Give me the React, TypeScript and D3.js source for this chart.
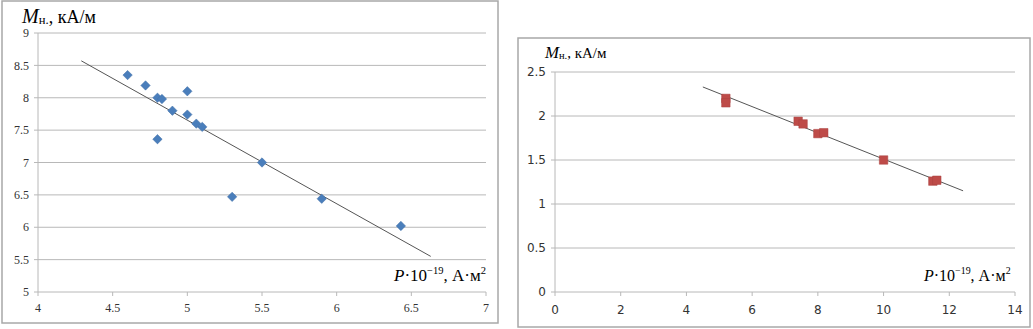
import React from 'react';
import * as d3 from 'd3';

// left chart: diamonds
const leftX = [4.6, 4.72, 4.8, 4.83, 4.9, 5.0, 5.0, 5.06, 5.1, 4.8, 5.5, 5.3, 5.9, 6.43];
const leftY = [8.35, 8.19, 8.0, 7.98, 7.8, 8.1, 7.74, 7.6, 7.55, 7.36, 7.0, 6.47, 6.44, 6.02];
const leftTrendX = [4.29, 6.63];
const leftTrendY = [8.57, 5.55];
const leftXTicks = [4, 4.5, 5, 5.5, 6, 6.5, 7];
const leftYTicks = [5, 5.5, 6, 6.5, 7, 7.5, 8, 8.5, 9];

// right chart: squares
const rightX = [5.2, 5.2, 7.4, 7.55, 8.0, 8.18, 10.0, 11.5, 11.62];
const rightY = [2.2, 2.15, 1.94, 1.91, 1.8, 1.81, 1.5, 1.26, 1.27];
const rightTrendX = [4.5, 12.42];
const rightTrendY = [2.33, 1.15];
const rightXTicks = [0, 2, 4, 6, 8, 10, 12, 14];
const rightYTicks = [0, 0.5, 1, 1.5, 2, 2.5];

const SERIF = '"Liberation Serif", "Times New Roman", serif';
const SANS = '"DejaVu Sans", sans-serif';
const GRID = '#b8b8b8';

type PanelProps = {
  frame: [number, number, number, number];
  xRange: [number, number];
  yRange: [number, number];
  xDomain: [number, number];
  yDomain: [number, number];
  xTicks: number[];
  yTicks: number[];
  xs: number[];
  ys: number[];
  trendX: number[];
  trendY: number[];
  marker: 'diamond' | 'square';
  color: string;
  yLabel: { x: number; y: number; size: number };
  xLabel: { x: number; y: number; size: number; boxX: number };
  tickFont: string;
  tickY: number;
  yTickX: number;
};

const Panel = (p: PanelProps) => {
  const x = d3.scaleLinear().domain(p.xDomain).range(p.xRange);
  const y = d3.scaleLinear().domain(p.yDomain).range(p.yRange);
  const line = d3.line<number>().x((d, i) => x(p.trendX[i])).y((d, i) => y(p.trendY[i]));
  const diamond = p.marker === 'diamond';
  const sym = d3.symbol().type(d3.symbolSquare).size(diamond ? 44 : 72);
  const [fx0, fy0, fx1, fy1] = p.frame;
  const s = p.yLabel.size;
  const xs = p.xLabel.size;
  return (
    <g>
      <rect x={fx0} y={fy0} width={fx1 - fx0} height={fy1 - fy0} fill="#fff" stroke="#a8a8a8" strokeWidth={1.5} />
      {p.yTicks.map(t => (
        <g key={'y' + t}>
          <line x1={p.xRange[0] - 4} x2={p.xRange[1]} y1={y(t)} y2={y(t)} stroke={GRID} strokeWidth={1} />
          <text x={p.yTickX} y={y(t)} dy="0.35em" textAnchor="end" fontSize={12} fontFamily={p.tickFont} fill="#333">{t}</text>
        </g>
      ))}
      <line x1={p.xRange[0]} x2={p.xRange[0]} y1={p.yRange[1]} y2={p.yRange[0]} stroke={GRID} />
      {p.xTicks.map(t => (
        <g key={'x' + t}>
          <line x1={x(t)} x2={x(t)} y1={p.yRange[0]} y2={p.yRange[0] + 4} stroke={GRID} />
          <text x={x(t)} y={p.tickY} dy="0.35em" textAnchor="middle" fontSize={12} fontFamily={p.tickFont} fill="#333">{t}</text>
        </g>
      ))}
      <path d={line(p.trendX) || ''} fill="none" stroke="#555" strokeWidth={1} />
      {p.xs.map((v, i) => (
        <path key={i} d={sym() || ''}
          transform={`translate(${x(v)},${y(p.ys[i])})${diamond ? ' rotate(45)' : ''}`}
          fill={p.color} stroke={d3.color(p.color)!.darker(0.3).toString()} strokeWidth={0.5} />
      ))}
      <rect x={p.xLabel.boxX} y={p.xLabel.y - xs - 2} width={fx1 - p.xLabel.boxX - 1} height={xs + 8} fill="#fff" />
      <text x={p.xLabel.x} y={p.xLabel.y} fontFamily={SERIF} fontSize={xs} fill="#000">
        <tspan fontStyle="italic">P</tspan>
        <tspan>·10</tspan>
        <tspan fontSize={xs * 0.62} dy={-xs * 0.42}>−19</tspan>
        <tspan dy={xs * 0.42}>, А·м</tspan>
        <tspan fontSize={xs * 0.62} dy={-xs * 0.42}>2</tspan>
      </text>
      <text x={p.yLabel.x} y={p.yLabel.y} fontFamily={SERIF} fontSize={s} fill="#000">
        <tspan fontStyle="italic" fontSize={s * 1.12}>M</tspan>
        <tspan fontSize={s * 0.7} dy={1}>н.</tspan>
        <tspan dy={-1}>, кА/м</tspan>
      </text>
    </g>
  );
};

const App = () => (
  <svg width={1033} height={329} style={{ position: 'absolute', left: 0, top: 0, background: '#fff' }}>
    <Panel
      frame={[2, 1, 498, 323]}
      xRange={[38, 486]}
      yRange={[292, 33]}
      xDomain={[4, 7]}
      yDomain={[5, 9]}
      xTicks={leftXTicks}
      yTicks={leftYTicks}
      xs={leftX}
      ys={leftY}
      trendX={leftTrendX}
      trendY={leftTrendY}
      marker="diamond"
      color="#4a7ebb"
      yLabel={{ x: 22, y: 23, size: 18 }}
      xLabel={{ x: 394, y: 281, size: 17, boxX: 394 }}
      tickFont={SERIF}
      tickY={308}
      yTickX={29}
    />
    <Panel
      frame={[518, 38, 1030, 327]}
      xRange={[555, 1015]}
      yRange={[292, 72]}
      xDomain={[0, 14]}
      yDomain={[0, 2.5]}
      xTicks={rightXTicks}
      yTicks={rightYTicks}
      xs={rightX}
      ys={rightY}
      trendX={rightTrendX}
      trendY={rightTrendY}
      marker="square"
      color="#be4b48"
      yLabel={{ x: 545, y: 58, size: 15 }}
      xLabel={{ x: 924, y: 281, size: 16, boxX: 1018 }}
      tickFont={SANS}
      tickY={310}
      yTickX={546}
    />
  </svg>
);

export default App;
